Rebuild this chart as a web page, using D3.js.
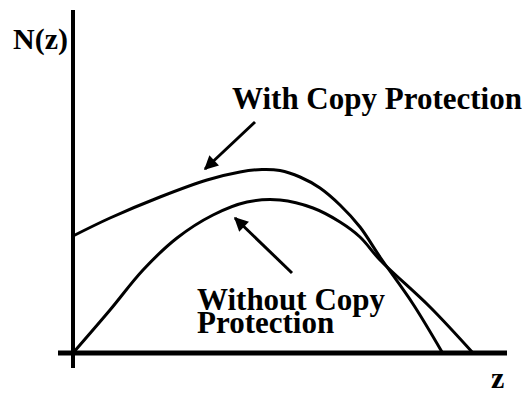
<!DOCTYPE html>
<html>
<head>
<meta charset="utf-8">
<script src="https://cdn.jsdelivr.net/npm/d3@7"></script>
<style>
  html, body { margin: 0; padding: 0; background: #fff; }
  svg { display: block; }
  .lbl { font-family: "Liberation Serif", "Times New Roman", serif; font-weight: bold; font-size: 30px; fill: #000; }
  .ann { font-size: 31px; }
</style>
</head>
<body>
<div id="chart"></div>
<script>
// "With Copy Protection" curve
const zWith = [0, 9.25, 21.75, 33.5, 41.75, 47.25, 51.75, 56.75, 61.75, 66.75, 71.75, 76.75, 85, 92.25];
const nWith = [58.5, 67.5, 78, 86.5, 90.5, 91.75, 91.25, 88, 82.5, 74, 63, 48, 24.5, 0.5];

// "Without Copy Protection" curve
const zWithout = [0, 9.25, 17.5, 26, 35, 43.5, 51.75, 60, 66.75, 71.75, 76.75, 89.25, 100];
const nWithout = [0, 21.5, 41.5, 57.5, 69, 75.5, 76.5, 72.5, 65.5, 58, 46.5, 23, 0];

// axis extents (data units)
const zExtent = [-3.75, 108.5];
const nExtent = [-7.5, 171.5];

// labels + arrows, in data units
const labels = [
  {text: "With Copy Protection", z: 39.75, n: 122},
  {text: "Without Copy", z: 31, n: 21.5},
  {text: "Protection", z: 31, n: 10}
];
const arrows = [
  {from: [45.5, 115.5], to: [33, 92]},
  {from: [54.75, 40], to: [40.5, 67.5]}
];

const width = 532, height = 393;

const svg = d3.select("#chart")
  .append("svg")
  .attr("width", width)
  .attr("height", height);

const x = d3.scaleLinear().domain([0, 100]).range([73, 473]);
const y = d3.scaleLinear().domain([0, 100]).range([353, 153]);

// axes (plain lines, no ticks)
svg.append("line")
  .attr("x1", x(0)).attr("x2", x(0))
  .attr("y1", y(nExtent[0])).attr("y2", y(nExtent[1]))
  .attr("stroke", "#000").attr("stroke-width", 4);

svg.append("line")
  .attr("x1", x(zExtent[0])).attr("x2", x(zExtent[1]))
  .attr("y1", y(0)).attr("y2", y(0))
  .attr("stroke", "#000").attr("stroke-width", 5);

// curves
const line = d3.line()
  .x(d => x(d[0]))
  .y(d => y(d[1]))
  .curve(d3.curveCatmullRom.alpha(0.5));

const series = [
  d3.zip(zWith, nWith),
  d3.zip(zWithout, nWithout)
];

svg.selectAll(".curve")
  .data(series)
  .join("path")
  .attr("class", "curve")
  .attr("d", line)
  .attr("fill", "none")
  .attr("stroke", "#000")
  .attr("stroke-width", 3)
  .attr("stroke-linecap", "round");

// arrows
svg.append("defs").append("marker")
  .attr("id", "head")
  .attr("viewBox", "0 0 10 10")
  .attr("refX", 9)
  .attr("refY", 5)
  .attr("markerUnits", "userSpaceOnUse")
  .attr("markerWidth", 16)
  .attr("markerHeight", 14)
  .attr("orient", "auto")
  .append("path")
  .attr("d", "M0,0 L10,5 L0,10 Z")
  .attr("fill", "#000");

svg.selectAll(".arrow")
  .data(arrows)
  .join("line")
  .attr("class", "arrow")
  .attr("x1", d => x(d.from[0]))
  .attr("y1", d => y(d.from[1]))
  .attr("x2", d => x(d.to[0]))
  .attr("y2", d => y(d.to[1]))
  .attr("stroke", "#000")
  .attr("stroke-width", 3)
  .attr("marker-end", "url(#head)");

// labels
svg.selectAll(".ann")
  .data(labels)
  .join("text")
  .attr("class", "lbl ann")
  .attr("x", d => x(d.z))
  .attr("y", d => y(d.n))
  .text(d => d.text);

// axis titles
svg.append("text")
  .attr("class", "lbl")
  .attr("x", 13)
  .attr("y", 49)
  .text("N(z)");

svg.append("text")
  .attr("class", "lbl")
  .attr("x", 491)
  .attr("y", 388)
  .text("z");
</script>
</body>
</html>
